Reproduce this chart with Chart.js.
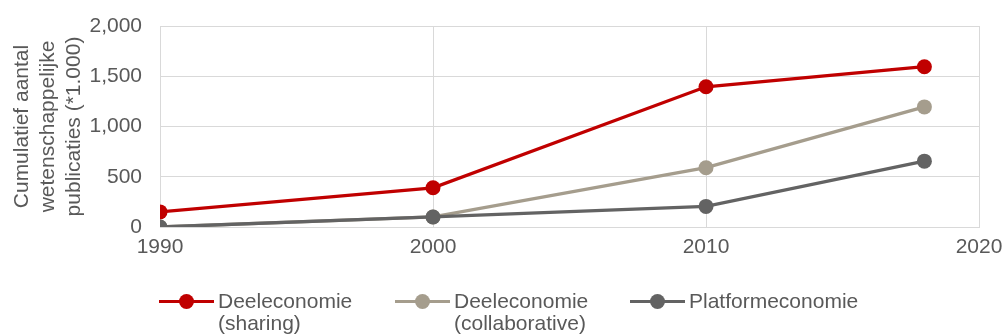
<!DOCTYPE html>
<html>
<head>
<meta charset="utf-8">
<script src="https://cdn.jsdelivr.net/npm/chart.js@4/dist/chart.umd.min.js"></script>
<style>
  html, body { margin: 0; padding: 0; background: #fff; }
  #wrap { position: relative; width: 1002px; height: 336px; }
  #legend { position: absolute; top: 290px; left: 0; width: 1002px; height: 46px;
            font-family: "Liberation Sans", Arial, sans-serif; font-size: 21px; color: #595959; }
  .item { position: absolute; top: 0; display: flex; align-items: flex-start; }
  .sym { position: relative; width: 55px; height: 22px; margin-right: 4px; }
  .sym .ln { position: absolute; left: 0; right: 0; top: 10px; height: 3px; }
  .sym .pt { position: absolute; left: 20px; top: 4px; width: 15px; height: 15px; border-radius: 50%; }
  .txt { line-height: 22px; }
</style>
</head>
<body>
<div id="wrap">
  <canvas id="c" width="1002" height="336"></canvas>
  <div id="legend"></div>
</div>
<script>
const years = [1990, 2000, 2010, 2018];
const sharing = [150, 390, 1395, 1595];
const collaborative = [0, 100, 590, 1195];
const platform = [0, 100, 205, 655];
const seriesNames = [["Deeleconomie", "(sharing)"], ["Deeleconomie", "(collaborative)"], ["Platformeconomie"]];
const seriesColors = ["#c00000", "#a59d8d", "#636363"];
const yTitle = ["Cumulatief aantal", "wetenschappelijke", "publicaties (*1.000)"];
const xTicks = [1990, 2000, 2010, 2020];
const yTicks = [0, 500, 1000, 1500, 2000];

const font = "'Liberation Sans', Arial, sans-serif";
const toPts = arr => arr.map((v, i) => ({ x: years[i], y: v }));
const seriesData = [sharing, collaborative, platform];

const datasets = seriesData.map((d, i) => ({
  label: seriesNames[i].join(" "),
  data: toPts(d),
  borderColor: seriesColors[i],
  backgroundColor: seriesColors[i],
  borderWidth: 3.3,
  pointRadius: 7.5,
  pointHoverRadius: 7.5,
  pointBorderWidth: 0,
  order: 2 - i,
  tension: 0
}));

new Chart(document.getElementById("c"), {
  type: "line",
  data: { datasets },
  options: {
    responsive: false,
    animation: false,
    events: [],
    layout: { padding: { top: 26, right: 23, bottom: 76, left: 7 } },
    plugins: { legend: { display: false }, tooltip: { enabled: false } },
    scales: {
      x: {
        type: "linear",
        min: 1990, max: 2020,
        afterBuildTicks: s => { s.ticks = xTicks.map(v => ({ value: v })); },
        afterFit: s => { s.height = 33; s.paddingLeft = 0; s.paddingRight = 0; },
        ticks: { color: "#595959", font: { family: font, size: 21 }, padding: 8, callback: v => String(v) },
        grid: { color: "#d9d9d9", lineWidth: 1, drawTicks: false },
        border: { color: "#d9d9d9" }
      },
      y: {
        min: 0, max: 2000,
        afterBuildTicks: s => { s.ticks = yTicks.map(v => ({ value: v })); },
        afterFit: s => { s.width = 153; s.paddingTop = 0; s.paddingBottom = 0; },
        ticks: { color: "#595959", font: { family: font, size: 21 }, padding: 18,
                 callback: v => v.toLocaleString("en-US") },
        grid: { color: "#d9d9d9", lineWidth: 1, drawTicks: false },
        border: { color: "#d9d9d9" },
        title: { display: true, text: yTitle, color: "#595959",
                 font: { family: font, size: 21, lineHeight: 1.25 }, padding: { top: 2, bottom: 4 } }
      }
    }
  }
});

const legend = document.getElementById("legend");
const lefts = [159, 395, 630];
seriesNames.forEach((name, i) => {
  const it = document.createElement("div");
  it.className = "item";
  it.style.left = lefts[i] + "px";
  it.innerHTML = '<div class="sym"><div class="ln" style="background:' + seriesColors[i] +
    '"></div><div class="pt" style="background:' + seriesColors[i] + '"></div></div>' +
    '<div class="txt">' + name.join("<br>") + '</div>';
  legend.appendChild(it);
});
</script>
</body>
</html>
